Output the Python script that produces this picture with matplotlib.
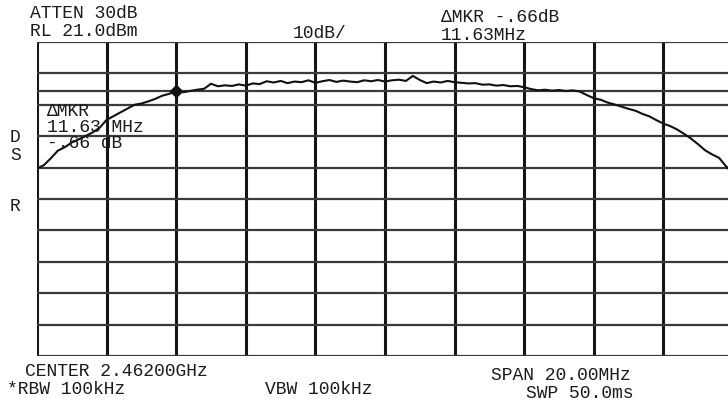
import matplotlib
matplotlib.use("Agg")
import matplotlib.pyplot as plt

# sweep: center 2.462 GHz, span 20 MHz, trace read every 0.2 MHz
freq_mhz = [
    2452.0, 2452.2, 2452.4, 2452.6, 2452.8, 2453.0, 2453.2, 2453.4, 2453.6, 2453.8,
    2454.0, 2454.2, 2454.4, 2454.6, 2454.8, 2455.0, 2455.2, 2455.4, 2455.6, 2455.8,
    2456.0, 2456.2, 2456.4, 2456.6, 2456.8, 2457.0, 2457.2, 2457.4, 2457.6, 2457.8,
    2458.0, 2458.2, 2458.4, 2458.6, 2458.8, 2459.0, 2459.2, 2459.4, 2459.6, 2459.8,
    2460.0, 2460.2, 2460.4, 2460.6, 2460.8, 2461.0, 2461.2, 2461.4, 2461.6, 2461.8,
    2462.0, 2462.2, 2462.4, 2462.6, 2462.8, 2463.0, 2463.2, 2463.4, 2463.6, 2463.8,
    2464.0, 2464.2, 2464.4, 2464.6, 2464.8, 2465.0, 2465.2, 2465.4, 2465.6, 2465.8,
    2466.0, 2466.2, 2466.4, 2466.6, 2466.8, 2467.0, 2467.2, 2467.4, 2467.6, 2467.8,
    2468.0, 2468.2, 2468.4, 2468.6, 2468.8, 2469.0, 2469.2, 2469.4, 2469.6, 2469.8,
    2470.0, 2470.2, 2470.4, 2470.6, 2470.8, 2471.0, 2471.2, 2471.4, 2471.6, 2471.8,
    2472.0,
]
level_dbm = [
    -19.3, -18.2, -16.0, -13.6, -12.5, -11.0, -10.0, -8.9, -7.8, -6.3,
    -3.8, -2.6, -1.4, -0.2, 1.0, 1.4, 2.1, 2.9, 3.9, 4.5,
    5.3, 5.0, 5.4, 5.8, 6.1, 7.7, 6.9, 7.2, 7.0, 7.5,
    7.1, 7.8, 7.6, 8.5, 8.1, 8.6, 7.9, 8.4, 8.2, 8.8,
    8.0, 8.5, 8.9, 8.3, 8.7, 8.4, 8.2, 8.8, 8.5, 8.9,
    8.4, 8.8, 9.0, 8.6, 10.2, 8.9, 7.9, 8.4, 8.1, 8.6,
    8.2, 8.0, 7.8, 7.9, 7.4, 7.5, 7.1, 7.3, 6.9, 7.0,
    6.6, 6.0, 5.6, 5.8, 5.5, 5.7, 5.4, 5.6, 5.2, 4.1,
    3.1, 2.6, 1.7, 1.1, 0.4, -0.3, -0.9, -1.9, -2.7, -3.9,
    -5.0, -5.8, -6.9, -8.3, -9.8, -11.6, -13.5, -14.8, -15.9, -18.6,
    -20.8,
]

ref_level = 21.0
db_per_div = 10
display_line = 5.3
marker_freq = [2456.0, 2467.63]
marker_level = [5.3, 4.64]

W, H = 728, 403
fig = plt.figure(figsize=(W / 100, H / 100), dpi=100)
fig.patch.set_facecolor("white")

# graticule runs slightly past the right edge of the screen capture
ax = fig.add_axes([37 / W, 1 - 356 / H, 696 / W, 314 / H])
ax.set_xlim(2452, 2472)
ax.set_ylim(ref_level - 10 * db_per_div, ref_level)

for f in range(2452, 2473, 2):
    ax.axvline(f, color="#151515", lw=2.2, zorder=1)
for k in range(11):
    ax.axhline(ref_level - k * db_per_div, color="#3a3a3a", lw=1.6, zorder=1)
ax.axhline(display_line, color="#3a3a3a", lw=1.6, zorder=1)

ax.plot(freq_mhz, level_dbm, color="#111111", lw=1.5, zorder=3)
ax.plot(marker_freq[:1], marker_level[:1], marker="D", ms=6, color="#111111", zorder=4)

ax.set_xticks([])
ax.set_yticks([])
for s in ax.spines.values():
    s.set_visible(False)

font = dict(family=["Liberation Mono", "DejaVu Sans Mono"], size=13, color="#1c1c1c",
            va="center", ha="left")


def label(x, y, s):
    fig.text(x / W, 1 - y / H, s, **font)


label(30, 13, "ATTEN 30dB")
label(30, 31, "RL 21.0dBm")
label(293, 33, "10dB/")
label(441, 18, "ΔMKR -.66dB")
label(441, 35, "11.63MHz")

label(47, 112, "ΔMKR")
label(47, 128, "11.63 MHz")
label(47, 144, "-.66 dB")

label(10, 138, "D")
label(10, 156, "S")
label(10, 206, "R")

label(25, 372, "CENTER 2.46200GHz")
label(7, 390, "*RBW 100kHz")
label(265, 390, "VBW 100kHz")
label(491, 375, "SPAN 20.00MHz")
label(526, 393, "SWP 50.0ms")

fig.savefig("out.png", dpi=100)
